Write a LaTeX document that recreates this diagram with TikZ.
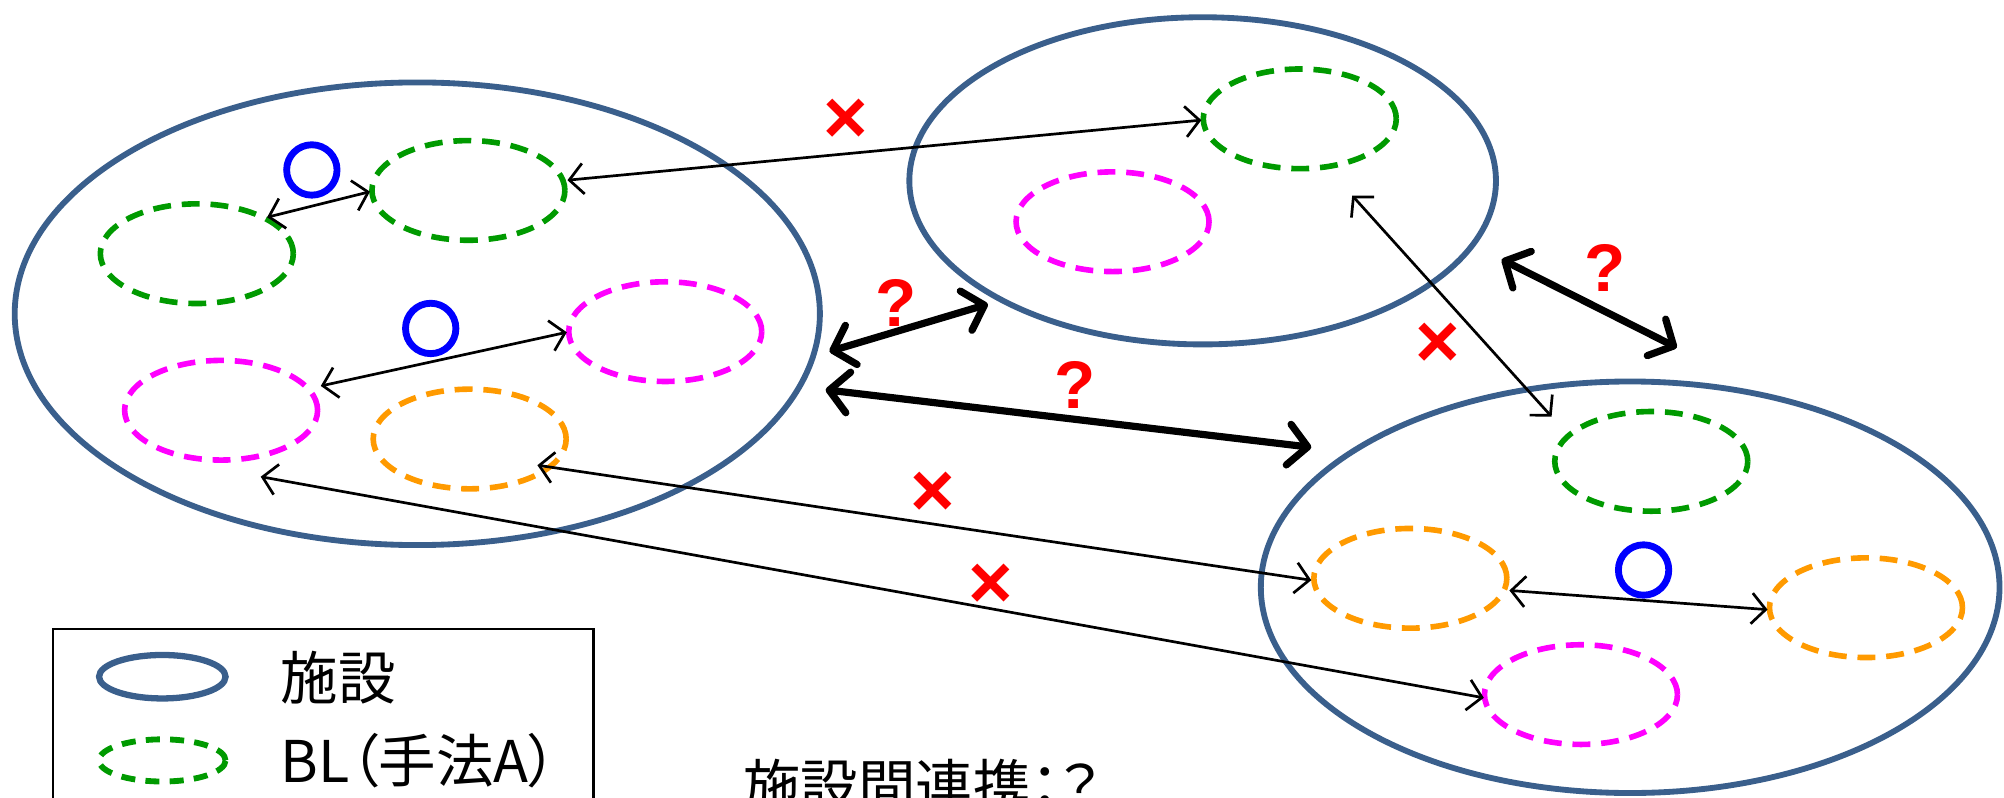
\documentclass[tikz,border=0pt]{standalone}
\usepackage{fontspec}
\setmainfont{Noto Sans CJK JP}
\newfontfamily\cjkp[RawFeature=+palt]{Noto Sans CJK JP}
\newfontfamily\cjkb[FakeBold=8]{Noto Sans CJK JP}
\newfontfamily\lsans{Liberation Sans}
\usetikzlibrary{arrows.meta,calc,shapes.geometric}
\definecolor{facblue}{HTML}{3A5F8C}
\definecolor{blgreen}{HTML}{009A00}
\definecolor{blmag}{HTML}{FF00FF}
\definecolor{blorange}{HTML}{FF9A00}
\tikzset{
  facility/.style={ellipse, draw=facblue, line width=1.3pt, inner sep=0pt, outer sep=0pt},
  bl/.style={ellipse, draw=#1, line width=1.25pt, dash pattern=on 1.4mm off 0.85mm,
    minimum width=15.1mm, minimum height=7.8mm, inner sep=0pt, outer sep=0pt},
  link/.style={line width=0.6pt,
    arrows={Straight Barb[length=1.1mm,width=2.4mm]-Straight Barb[length=1.1mm,width=2.4mm]}},
  biglink/.style={line width=1.6pt,
    arrows={Straight Barb[length=1.5mm,width=3.2mm,round]-Straight Barb[length=1.5mm,width=3.2mm,round]}},
  okmark/.style={text=blue, font=\cjkb\fontsize{13pt}{14pt}\selectfont, inner sep=0pt},
  ngmark/.style={text=red, font=\lsans\bfseries\fontsize{17pt}{18pt}\selectfont, inner sep=0pt},
  qmark/.style={text=red, font=\lsans\bfseries\fontsize{15pt}{16pt}\selectfont, inner sep=0pt},
  lbl/.style={anchor=base west, inner sep=0pt, font=\fontsize{12.8pt}{15pt}\selectfont},
}
\begin{document}
\begin{tikzpicture}[x=0.1mm,y=-0.1mm]
\useasboundingbox (0,0) rectangle (1568,624);
\clip (0,0) rectangle (1568,624);
% facilities
\node[facility, minimum width=63.0mm, minimum height=36.2mm] (F1) at (326.5,245.5) {};
\node[facility, minimum width=45.9mm, minimum height=25.6mm] (F2) at (941,141.5) {};
\node[facility, minimum width=57.8mm, minimum height=32.2mm] (F3) at (1275.5,459.5) {};
% BL ellipses
\node[bl=blgreen] (G1) at (154,198.5) {};
\node[bl=blgreen] (G2) at (366.5,149) {};
\node[bl=blmag] (M1) at (520.5,259.5) {};
\node[bl=blmag] (M2) at (173,321) {};
\node[bl=blorange] (O1) at (367.5,343.5) {};
\node[bl=blgreen] (G3) at (1017,93) {};
\node[bl=blmag] (M3) at (870.5,173.5) {};
\node[bl=blgreen] (G4) at (1292,361) {};
\node[bl=blorange] (O2) at (1103.5,452.5) {};
\node[bl=blorange] (O3) at (1460,475.5) {};
\node[bl=blmag] (M4) at (1237,543.5) {};
% thin links
\draw[link] ($(G1)+(55,-28.5)$) -- ($(G2)+(-77,1)$);
\draw[link] ($(M2)+(78,-19)$) -- ($(M1)+(-77,0.5)$);
\draw[link] ($(G2)+(77.5,-8)$) -- ($(G3)+(-77,1)$);
\draw[link] ($(O1)+(53,20.5)$) -- ($(O2)+(-77.5,1.5)$);
\draw[link] ($(M2)+(31,52)$) -- ($(M4)+(-76,2.5)$);
\draw[link] ($(G3)+(41,60)$) -- ($(G4)+(-78,-35)$);
\draw[link] ($(O2)+(77.5,9.5)$) -- ($(O3)+(-77,1.5)$);
% facility links
\draw[biglink] ($(F1)+(322.5,29.5)$) -- ($(F2)+(-168,96.5)$);
\draw[biglink] ($(F1)+(319.5,59.5)$) -- ($(F3)+(-249.5,-109.5)$);
\draw[biglink] ($(F2)+(234,61.5)$) -- ($(F3)+(36.5,-187.5)$);
% marks
\node[okmark] (ok1) at (244,133) {○};
\node[okmark] (ok2) at (337,257) {○};
\node[okmark] (ok3) at (1286,446) {○};
\node[ngmark] (ng1) at (662,95) {×};
\node[ngmark] (ng2) at (730,387) {×};
\node[ngmark] (ng3) at (775,459) {×};
\node[ngmark] (ng4) at (1125,270) {×};
\node[qmark] (q1) at (701,237) {?};
\node[qmark] (q2) at (841,301) {?};
\node[qmark] (q3) at (1256,210) {?};
% legend
\node[draw, line width=0.6pt, minimum width=42.3mm, minimum height=25mm, anchor=north west, inner sep=0pt] (LB) at (40.5,491) {};
\node[ellipse, draw=facblue, line width=1.4pt, minimum width=9.9mm, minimum height=3.4mm, inner sep=0pt] (LF) at (127,529.5) {};
\node[ellipse, draw=blgreen, line width=1.3pt, dash pattern=on 1.1mm off 0.8mm, minimum width=9.9mm, minimum height=3.3mm, inner sep=0pt] (LG) at (127,595) {};
\node[lbl] (LFt) at (219,547) {施設};
\node[lbl, font=\cjkp\fontsize{12.8pt}{15pt}\selectfont] (LGt) at (219,612) {BL（手法A）};
\node[lbl, font=\cjkp\fontsize{12.8pt}{15pt}\selectfont] (T) at (581,632) {施設間連携：？};
\end{tikzpicture}
\end{document}
